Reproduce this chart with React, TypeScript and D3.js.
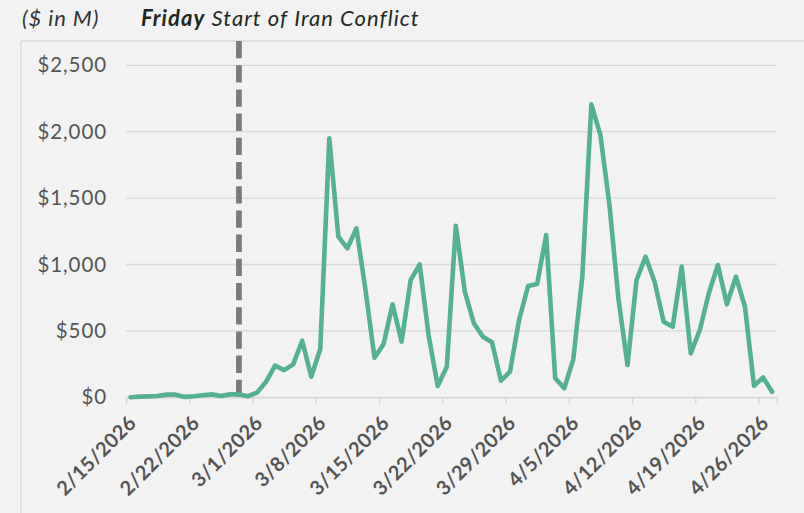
import React, { useEffect, useRef } from 'react';
import * as d3 from 'd3';

// daily values, 2/15/2026 .. 4/27/2026 ($ in M)
const startDate = '2026-02-15';
const values = [
  0, 5, 7, 10, 20, 20, 3, 8, 15, 22,
  10, 22, 22, 8, 35, 117, 238, 205, 248, 426,
  155, 364, 1950, 1210, 1122, 1272, 810, 298, 399, 700,
  419, 883, 1001, 462, 85, 230, 1292, 795, 557, 456,
  414, 125, 193, 582, 838, 853, 1222, 143, 68, 286,
  908, 2206, 1975, 1450, 740, 243, 883, 1059, 870, 569,
  532, 984, 331, 507, 783, 996, 700, 908, 682, 87,
  150, 42,
];
const yTicks = [0, 500, 1000, 1500, 2000, 2500];
const xTickDates = ['2026-02-15', '2026-02-22', '2026-03-01', '2026-03-08', '2026-03-15', '2026-03-22',
  '2026-03-29', '2026-04-05', '2026-04-12', '2026-04-19', '2026-04-26'];
const eventDate = '2026-02-27';
const unitLabel = '($ in M)';
const eventDay = 'Friday';
const eventText = 'Start of Iran Conflict';

const parse = (s: string) => {
  const [y, m, d] = s.split('-').map(Number);
  return new Date(y, m - 1, d);
};
const noon = (d: Date) => new Date(d.getFullYear(), d.getMonth(), d.getDate(), 12);

const App = () => {
  const ref = useRef<SVGSVGElement>(null);

  useEffect(() => {
    const svg = d3.select(ref.current);
    svg.selectAll('*').remove();

    const t0 = parse(startDate);
    const data = values.map((v, i) => ({ date: noon(d3.timeDay.offset(t0, i)), v }));

    const x = d3.scaleTime()
      .domain([t0, d3.timeDay.offset(t0, 72)])
      .range([126, 776.6]);
    const y = d3.scaleLinear().domain([0, 2500]).range([397.3, 65.3]);

    svg.append('rect').attr('width', 804).attr('height', 513).attr('fill', '#f2f2f2');

    // panel border
    svg.append('line').attr('x1', 21).attr('x2', 804).attr('y1', 41).attr('y2', 41)
      .attr('stroke', '#d9d9d9').attr('stroke-width', 1.3);
    svg.append('line').attr('x1', 21).attr('x2', 21).attr('y1', 41).attr('y2', 513)
      .attr('stroke', '#d9d9d9').attr('stroke-width', 1.3);

    // gridlines + y labels
    const yg = svg.append('g');
    yg.selectAll('line').data(yTicks).join('line')
      .attr('x1', 126).attr('x2', 777)
      .attr('y1', d => y(d)).attr('y2', d => y(d))
      .attr('stroke', '#d9d9d9').attr('stroke-width', 1.3);
    yg.selectAll('text').data(yTicks).join('text')
      .attr('x', 107).attr('y', d => y(d)).attr('dy', '0.35em')
      .attr('text-anchor', 'end')
      .attr('font-family', 'Lato').attr('font-size', 20.5).attr('letter-spacing', 0.9)
      .attr('fill', '#555')
      .text(d => d3.format('$,')(d));

    // x axis
    const xa = svg.append('g').attr('transform', 'translate(0,397.3)')
      .call(d3.axisBottom(x).tickValues(xTickDates.map(parse)).tickSize(7)
        .tickFormat(d => d3.timeFormat('%-m/%-d/%Y')(d as Date)));
    xa.select('.domain').attr('stroke', '#d6d6d6').attr('stroke-width', 1.3);
    xa.selectAll('.tick line').attr('stroke', '#d6d6d6').attr('stroke-width', 1.3);
    xa.selectAll('.tick text')
      .attr('y', 0).attr('dy', '0.35em')
      .attr('transform', 'translate(6,22) rotate(-45)')
      .attr('text-anchor', 'end')
      .attr('font-family', 'Lato').attr('font-weight', 'bold').attr('font-size', 20)
      .attr('letter-spacing', 0.3)
      .attr('fill', '#555');

    // event marker
    const ex = x(noon(parse(eventDate)));
    svg.append('line').attr('x1', ex).attr('x2', ex).attr('y1', 41).attr('y2', 397.3)
      .attr('stroke', '#7a7a7a').attr('stroke-width', 5.7).attr('stroke-dasharray', '17.3 6.9');

    const line = d3.line<{ date: Date; v: number }>().x(d => x(d.date)).y(d => y(d.v));
    svg.append('path').datum(data)
      .attr('fill', 'none').attr('stroke', '#55b194').attr('stroke-width', 4.6)
      .attr('stroke-linejoin', 'round').attr('stroke-linecap', 'round')
      .attr('d', line);

    // header texts
    svg.append('text').attr('x', 22).attr('y', 26)
      .attr('font-family', 'Lato').attr('font-style', 'italic').attr('font-size', 22)
      .attr('letter-spacing', 0.9)
      .attr('fill', '#333').text(unitLabel);
    const ht = svg.append('text').attr('x', 141).attr('y', 26)
      .attr('font-family', 'Lato').attr('font-style', 'italic').attr('font-size', 22)
      .attr('letter-spacing', 1.05)
      .attr('fill', '#1f2a24');
    ht.append('tspan').attr('font-weight', 'bold').text(eventDay);
    ht.append('tspan').text(' ' + eventText);
  }, []);

  return (
    <svg ref={ref} width={804} height={513}
      style={{ position: 'absolute', left: 0, top: 0, display: 'block' }} />
  );
};

export default App;
